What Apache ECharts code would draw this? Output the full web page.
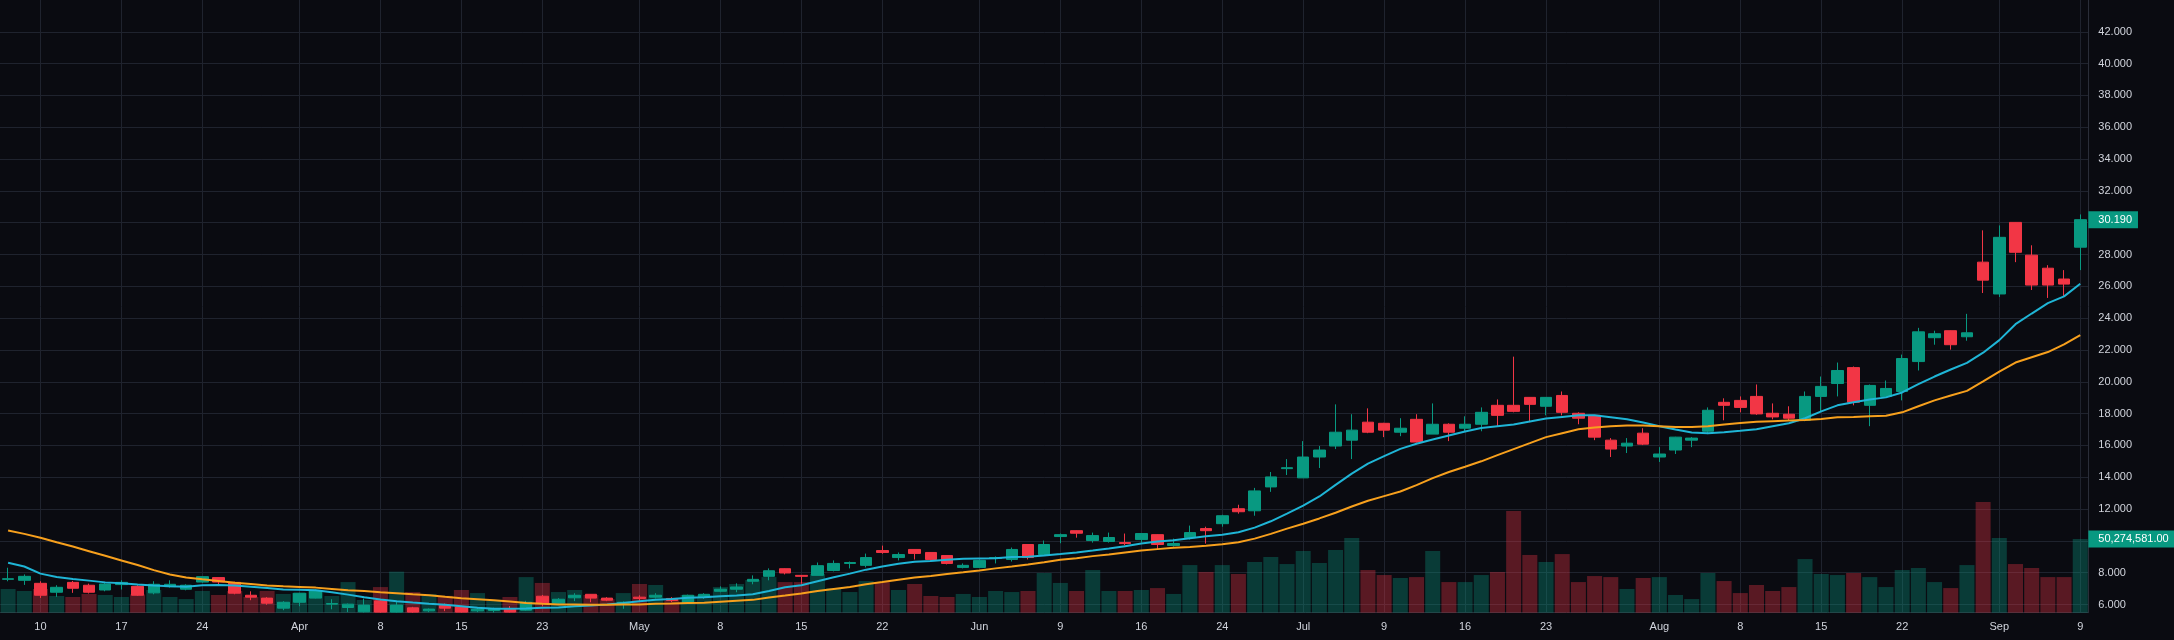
<!DOCTYPE html>
<html>
<head>
<meta charset="utf-8">
<title>Daily chart</title>
<script src="https://cdn.jsdelivr.net/npm/echarts@6/dist/echarts.min.js"></script>
<style>
    html, body { margin: 0; padding: 0; background: #0a0b11; }
    #chart { width: 2174px; height: 640px; }
</style>
</head>
<body>
<div id="chart"></div>
<script>
// trading days (2025, MM-DD)
var dates = [
    '03-06','03-07','03-10','03-11','03-12','03-13','03-14','03-17','03-18','03-19','03-20','03-21','03-24','03-25','03-26','03-27','03-28','03-31',
    '04-01','04-02','04-03','04-04','04-07','04-08','04-09','04-10','04-11','04-14','04-15','04-16','04-17','04-21','04-22','04-23','04-24','04-25','04-28','04-29','04-30',
    '05-01','05-02','05-05','05-06','05-07','05-08','05-09','05-12','05-13','05-14','05-15','05-16','05-19','05-20','05-21','05-22','05-23','05-27','05-28','05-29','05-30',
    '06-02','06-03','06-04','06-05','06-06','06-09','06-10','06-11','06-12','06-13','06-16','06-17','06-18','06-20','06-23','06-24','06-25','06-26','06-27','06-30',
    '07-01','07-02','07-03','07-07','07-08','07-09','07-10','07-11','07-14','07-15','07-16','07-17','07-18','07-21','07-22','07-23','07-24','07-25','07-28','07-29','07-30','07-31',
    '08-01','08-04','08-05','08-06','08-07','08-08','08-11','08-12','08-13','08-14','08-15','08-18','08-19','08-20','08-21','08-22','08-25','08-26','08-27','08-28','08-29',
    '09-02','09-03','09-04','09-05','09-08','09-09'
];

// time scale marks
var tickDates = ['03-10','03-17','03-24','04-01','04-08','04-15','04-23','05-01','05-08','05-15','05-22','06-02','06-09','06-16','06-24','07-01','07-09','07-16','07-23','08-01','08-08','08-15','08-22','09-02','09-09'];
var tickLabels = ['10','17','24','Apr','8','15','23','May','8','15','22','Jun','9','16','24','Jul','9','16','23','Aug','8','15','22','Sep','9'];

var opens = [
    7.58,7.52,7.33,6.77,7.39,7.21,6.91,7.25,7.14,6.73,7.12,6.96,7.41,7.69,7.39,6.58,6.40,5.77,6.14,6.40,
    6.02,5.81,5.54,6.23,5.52,5.79,5.60,5.94,5.85,5.60,5.62,5.69,5.64,6.52,6.08,6.42,6.64,6.40,6.08,6.46,
    6.46,6.38,6.08,6.46,6.83,6.96,7.46,7.77,8.25,7.83,7.83,8.14,8.58,8.46,9.39,8.95,9.46,9.27,9.08,8.33,
    8.33,8.89,8.83,9.77,9.14,10.27,10.64,10.02,9.96,9.89,10.08,10.39,9.71,10.20,10.77,11.08,12.02,11.89,13.39,14.54,
    13.96,15.27,15.96,16.33,17.46,17.39,16.83,17.64,16.71,17.33,17.08,17.33,18.52,18.52,19.02,18.46,19.14,18.02,17.89,16.33,
    15.96,16.77,15.27,15.71,16.33,16.89,18.71,18.83,19.08,18.02,17.96,17.58,19.08,19.89,20.89,18.52,19.08,19.39,21.27,22.77,
    23.21,22.83,27.52,25.52,30.02,27.96,27.14,26.46,28.46
];
var closes = [
    7.62,7.77,6.58,7.08,7.02,6.77,7.29,7.39,6.58,7.27,7.27,7.21,7.75,7.41,6.71,6.46,6.08,6.14,6.71,6.89,
    6.06,6.02,5.96,5.52,5.96,5.52,5.71,5.77,5.52,5.70,5.72,5.52,6.14,6.08,6.33,6.58,6.40,6.27,6.14,6.38,
    6.58,6.25,6.58,6.64,6.96,7.10,7.58,8.12,7.98,7.77,8.44,8.58,8.64,8.95,9.27,9.14,9.21,8.83,8.58,8.46,
    8.77,8.95,9.46,8.95,9.77,10.39,10.48,10.33,10.21,9.83,10.46,9.77,9.83,10.52,10.64,11.58,11.83,13.14,14.02,14.60,
    15.27,15.71,16.83,16.96,16.83,16.96,17.08,16.21,17.33,16.83,17.33,18.08,17.89,18.14,18.58,19.02,18.08,17.71,16.52,15.77,
    16.14,16.08,15.46,16.52,16.46,18.21,18.52,18.39,17.98,17.79,17.71,19.08,19.71,20.71,18.71,19.77,19.58,21.46,23.14,23.02,
    22.33,23.08,26.39,29.08,28.14,26.08,26.08,26.14,30.19
];
var lows = [
    7.46,7.23,6.41,6.48,6.73,6.69,6.83,6.94,6.54,6.64,7.06,6.89,7.37,7.19,6.64,6.27,5.98,5.64,5.89,6.38,
    5.70,5.52,5.50,5.48,5.49,5.48,5.52,5.58,5.49,5.52,5.50,5.49,5.60,5.89,6.04,6.21,6.14,6.21,5.73,6.21,
    6.38,6.14,6.06,6.35,6.77,6.77,7.27,7.52,7.89,7.31,7.83,8.08,8.27,8.33,9.19,8.77,8.83,8.73,8.52,8.27,
    8.31,8.58,8.70,8.83,9.12,9.85,10.20,9.89,9.89,9.71,9.89,9.46,9.64,10.08,9.83,10.89,11.71,11.58,13.08,14.14,
    13.96,14.58,15.77,15.14,16.77,16.52,16.58,16.18,16.71,16.27,16.89,16.89,17.21,18.08,17.46,17.89,17.89,17.33,16.33,15.27,
    15.52,16.02,14.96,15.46,15.89,16.71,17.58,18.08,17.92,17.64,17.58,17.52,18.14,19.08,18.52,17.21,19.06,18.83,20.71,22.33,
    22.02,22.58,25.58,25.33,27.52,25.77,25.27,25.33,27.02
];
var highs = [
    8.31,7.89,7.46,7.21,7.48,7.31,7.35,7.52,7.21,7.46,7.52,7.27,7.77,7.71,7.43,6.83,6.46,6.21,6.73,6.94,
    6.33,6.06,6.37,6.29,6.23,5.85,5.75,6.06,5.87,5.78,5.80,5.90,6.23,6.60,6.40,6.71,6.66,6.46,6.20,6.58,
    6.71,6.46,6.62,6.71,7.14,7.33,7.83,8.27,8.27,7.85,8.64,8.77,8.70,9.20,9.70,9.27,9.48,9.29,9.10,8.58,
    8.83,9.02,9.58,9.79,10.02,10.46,10.66,10.52,10.52,10.46,10.48,10.41,10.14,10.96,10.89,11.64,12.27,13.33,14.33,15.14,
    16.27,15.96,18.58,17.96,18.33,17.42,17.71,17.96,18.64,17.39,17.83,18.39,18.89,21.58,19.04,19.04,19.39,18.08,17.91,16.46,
    16.46,17.08,15.89,16.54,16.52,18.39,18.96,19.08,19.83,18.64,18.46,19.39,20.33,21.21,20.96,19.83,20.08,21.71,23.39,23.21,
    23.23,24.27,29.52,29.83,30.04,28.58,27.33,27.02,30.52
];
// volume, millions
var volumes = [
    16.2,14.8,16.2,11.4,10.7,12.8,12.1,10.7,12.5,15.5,10.7,9.3,14.8,12.1,14.8,10.7,14.8,12.8,13.4,15.5,
    11.4,20.9,8.7,17.5,28.0,14.1,12.8,11.5,15.5,13.4,8.0,10.7,24.3,20.3,14.1,15.5,12.1,9.3,13.4,19.6,
    18.9,9.3,12.1,12.0,17.5,19.6,22.3,24.3,20.9,20.9,26.4,16.8,14.1,21.6,20.9,15.5,19.6,11.4,10.7,12.8,
    10.7,14.8,14.1,14.8,27.1,20.3,14.8,29.1,14.8,14.8,15.5,16.8,12.8,32.5,27.8,32.5,26.4,34.6,38.0,33.2,
    42.1,33.9,42.8,50.9,29.1,25.7,23.7,24.3,42.1,20.9,20.9,25.7,27.8,69.4,39.4,34.6,40.0,20.9,25.0,24.3,
    16.2,23.7,24.3,12.1,9.3,27.1,21.6,13.4,18.9,14.8,17.5,36.6,26.4,25.7,27.1,24.3,17.5,29.1,30.5,20.9,
    16.8,32.5,75.5,50.9,33.2,30.5,24.3,24.3,50.274581
];
// moving averages as drawn
var maFast = [
    8.62,8.39,7.94,7.73,7.60,7.50,7.39,7.33,7.25,7.19,7.14,7.12,7.21,7.23,7.19,7.12,7.04,6.94,6.92,6.89,
    6.77,6.62,6.46,6.31,6.21,6.12,6.04,5.98,5.89,5.79,5.73,5.73,5.75,5.79,5.81,5.89,5.94,6.00,6.10,6.21,
    6.29,6.35,6.42,6.46,6.52,6.56,6.64,6.85,7.08,7.21,7.46,7.71,7.94,8.19,8.39,8.56,8.69,8.73,8.81,8.87,
    8.89,8.91,8.98,9.00,9.08,9.17,9.27,9.39,9.52,9.66,9.83,9.96,10.04,10.17,10.29,10.39,10.54,10.83,11.23,11.71,
    12.21,12.79,13.52,14.23,14.85,15.33,15.78,16.10,16.37,16.62,16.87,17.10,17.21,17.31,17.50,17.69,17.79,17.89,17.89,17.77,
    17.64,17.44,17.21,17.00,16.81,16.77,16.83,16.92,17.02,17.21,17.39,17.71,18.14,18.52,18.71,18.89,19.02,19.33,19.85,20.33,
    20.77,21.19,21.83,22.62,23.62,24.29,24.94,25.37,26.16
];
var maSlow = [
    10.65,10.44,10.19,9.91,9.64,9.35,9.06,8.77,8.48,8.16,7.89,7.69,7.58,7.48,7.37,7.29,7.19,7.14,7.10,7.06,
    6.98,6.89,6.85,6.77,6.71,6.64,6.58,6.48,6.39,6.33,6.27,6.19,6.10,6.04,6.00,6.00,5.99,5.98,6.00,6.00,
    6.04,6.06,6.10,6.11,6.17,6.23,6.29,6.44,6.56,6.69,6.85,6.98,7.10,7.27,7.41,7.56,7.69,7.79,7.91,8.02,
    8.14,8.27,8.39,8.52,8.66,8.81,8.91,9.04,9.14,9.27,9.39,9.48,9.56,9.62,9.69,9.79,9.91,10.14,10.44,10.77,
    11.08,11.41,11.77,12.16,12.52,12.81,13.10,13.50,13.94,14.33,14.66,15.00,15.39,15.77,16.14,16.52,16.77,17.02,17.12,17.21,
    17.25,17.25,17.21,17.16,17.16,17.21,17.31,17.41,17.48,17.52,17.56,17.60,17.66,17.77,17.79,17.83,17.87,18.08,18.46,18.83,
    19.14,19.43,20.02,20.64,21.21,21.54,21.87,22.35,22.94
];

(function () {
    var upColor = '#089981';
    var downColor = '#f23645';
    var gridColor = '#1f232e';
    var borderColor = '#2a2e39';
    var textColor = '#d1d4dc';
    var fontFamily = 'Arial, "Liberation Sans", sans-serif';
    var hidden = 'rgba(0,0,0,0)';

    var chartManager = {
        _chart: null,
        _tagPrices: [],

        InitializePage: function () {
            var _this = this;
            var last = dates.length - 1;
            _this._chart = echarts.init(document.getElementById('chart'), null, { renderer: 'canvas' });
            _this._chart.setOption(_this.BuildOption());
            // scale labels under the value tags are hidden
            var volY = _this._chart.convertToPixel({ yAxisIndex: 0 }, volumes[last]);
            var volAsPrice = _this._chart.convertFromPixel({ yAxisIndex: 1 }, volY);
            _this._tagPrices = [closes[last], volAsPrice];
            _this._chart.setOption(_this.BuildOption(), true);
        },

        // candles in [open, close, low, high] order
        CandleData: function () {
            return opens.map(function (o, i) { return [o, closes[i], lows[i], highs[i]]; });
        },

        VolumeData: function () {
            return volumes.map(function (v, i) {
                var up = closes[i] >= opens[i];
                return { value: v, itemStyle: { color: up ? 'rgba(8,153,129,0.34)' : 'rgba(242,54,69,0.34)' } };
            });
        },

        // value tag on the price scale
        TagLabel: function (text) {
            return {
                show: true, position: 'end', distance: 0, opacity: 1,
                color: '#ffffff', backgroundColor: upColor,
                fontSize: 11, fontFamily: fontFamily, padding: [3, 6, 3, 10],
                formatter: function () { return text; }
            };
        },

        PriceLabel: function (v) {
            var _this = chartManager;
            if (v < 6 || v > 42) return '';
            for (var i = 0; i < _this._tagPrices.length; i++) {
                if (Math.abs(v - _this._tagPrices[i]) < 1) return '';
            }
            return v.toFixed(3);
        },

        BuildOption: function () {
            var last = dates.length - 1;
            var volText = (volumes[last] * 1e6).toLocaleString('en-US', { minimumFractionDigits: 2, maximumFractionDigits: 2 });

            var vLines = tickDates.map(function (d) {
                return { xAxis: d, label: { show: false } };
            });
            vLines.push({
                yAxis: volumes[last],
                lineStyle: { color: hidden, width: 1 },
                label: this.TagLabel(volText)
            });

            return {
                backgroundColor: '#0a0b11',
                animation: false,
                textStyle: { fontFamily: fontFamily },
                grid: [
                    { left: -4.25, width: 2092.6, top: 0, height: 612.7 },
                    { left: -4.25, width: 2092.6, top: -3.7, height: 640 }
                ],
                xAxis: [
                    {
                        type: 'category', gridIndex: 0, data: dates, boundaryGap: true,
                        axisLine: { lineStyle: { color: borderColor } },
                        axisTick: { show: false },
                        splitLine: { show: false },
                        axisLabel: {
                            color: textColor, fontSize: 11, margin: 9,
                            interval: function (idx, val) { return tickDates.indexOf(val) >= 0; },
                            formatter: function (val) { return tickLabels[tickDates.indexOf(val)]; }
                        }
                    },
                    { type: 'category', gridIndex: 1, data: dates, boundaryGap: true, show: false }
                ],
                yAxis: [
                    {
                        type: 'value', gridIndex: 0, min: 0, max: 418, position: 'right',
                        axisLine: { show: true, lineStyle: { color: borderColor } },
                        axisTick: { show: false }, axisLabel: { show: false }, splitLine: { show: false }
                    },
                    {
                        type: 'value', gridIndex: 1, min: 4, max: 44, interval: 2, position: 'right',
                        axisLine: { show: false }, axisTick: { show: false },
                        axisLabel: { color: textColor, fontSize: 11, margin: 10, formatter: this.PriceLabel },
                        splitLine: { show: true, showMinLine: false, showMaxLine: false, lineStyle: { color: gridColor, width: 1 } }
                    }
                ],
                series: [
                    {
                        name: 'Volume', type: 'bar', xAxisIndex: 0, yAxisIndex: 0,
                        data: this.VolumeData(), barWidth: 15, z: 1,
                        markLine: {
                            silent: true, symbol: ['none', 'none'], z: 0, animation: false,
                            lineStyle: { color: gridColor, width: 1, type: 'solid' },
                            emphasis: { disabled: true },
                            data: vLines
                        }
                    },
                    {
                        name: 'Price', type: 'candlestick', xAxisIndex: 1, yAxisIndex: 1,
                        data: this.CandleData(), barWidth: 12, z: 3,
                        itemStyle: { color: upColor, color0: downColor, borderColor: upColor, borderColor0: downColor, borderWidth: 1 },
                        markLine: {
                            silent: true, symbol: ['none', 'none'], animation: false,
                            lineStyle: { color: hidden, width: 1, type: 'solid' },
                            emphasis: { disabled: true },
                            label: this.TagLabel(closes[last].toFixed(3)),
                            data: [{ yAxis: closes[last] }]
                        }
                    },
                    {
                        name: 'MA fast', type: 'line', xAxisIndex: 1, yAxisIndex: 1, data: maFast,
                        showSymbol: false, symbol: 'none', z: 4,
                        lineStyle: { color: '#1fb5d6', width: 2 }
                    },
                    {
                        name: 'MA slow', type: 'line', xAxisIndex: 1, yAxisIndex: 1, data: maSlow,
                        showSymbol: false, symbol: 'none', z: 4,
                        lineStyle: { color: '#f7a01d', width: 2 }
                    }
                ]
            };
        }
    };

    chartManager.InitializePage();
})();
</script>
</body>
</html>
